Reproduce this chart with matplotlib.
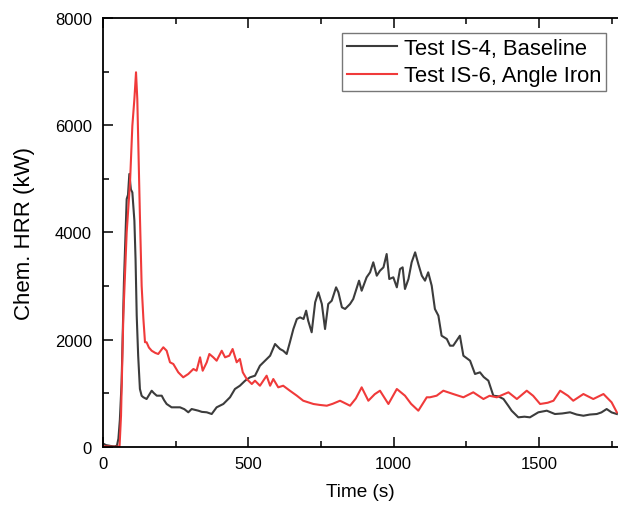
import matplotlib
matplotlib.use("Agg")
import matplotlib.pyplot as plt
from matplotlib.ticker import MultipleLocator

plt.rcParams['font.family'] = ['Liberation Sans', 'DejaVu Sans']

# Test IS-4, Baseline
t_base = [0, 10, 20, 30, 40, 48, 53, 58, 64, 72, 81.5, 86, 90.6, 96, 101, 108, 112, 116, 121, 127, 133,
          139, 150, 158, 167.5, 175, 185, 202, 210, 219, 236, 265, 280, 293.5, 305, 328, 340, 357, 374,
          391, 414, 437, 454, 471, 489, 506, 523, 540, 557.5, 575, 592, 609, 620, 632, 643, 655, 667,
          678, 690, 699, 706, 718, 730, 741, 753, 764, 775, 787, 802, 810, 822, 833, 850, 861, 881,
          890, 907, 919, 930, 942, 953, 965, 976, 985, 999, 1011, 1022, 1031, 1039, 1051, 1062, 1074,
          1085, 1097, 1108, 1119, 1131, 1142, 1154, 1165, 1183, 1194, 1205, 1228, 1240, 1263, 1280,
          1297, 1310, 1326, 1343, 1360, 1378, 1395, 1406, 1429, 1450, 1469, 1498, 1527, 1555, 1580,
          1607, 1630, 1653, 1675, 1699, 1715, 1733, 1750, 1768]
v_base = [60, 30, 20, 10, 5, 20, 150, 500, 1200, 3067, 4622, 4700, 5090, 4800, 4745, 4217, 3500, 2445, 1700,
          1077, 950, 922, 890, 960, 1045, 1000, 952, 952, 870, 797, 735, 735, 700, 642, 703, 672, 650,
          642, 610, 735, 797, 922, 1077, 1138, 1232, 1295, 1325, 1511, 1605, 1698, 1916, 1823, 1791,
          1730, 1948, 2196, 2383, 2414, 2383, 2538, 2351, 2135, 2694, 2881, 2663, 2196, 2663, 2724,
          2974, 2881, 2601, 2570, 2663, 2756, 3098, 2911, 3161, 3254, 3441, 3191, 3284, 3347, 3596,
          3129, 3161, 2974, 3316, 3347, 2943, 3129, 3441, 3627, 3409, 3191, 3098, 3254, 3004, 2570,
          2445, 2071, 2010, 1885, 1885, 2071, 1698, 1605, 1357, 1388, 1300, 1232, 952, 940, 890, 760,
          672, 548, 560, 548, 642, 672, 610, 620, 642, 600, 578, 600, 610, 640, 703, 640, 610]

# Test IS-6, Angle Iron
t_iron = [0, 10, 20, 30, 40, 50, 57, 62, 70, 81.5, 93, 101, 108, 113.6, 118, 127, 133, 139, 144.5, 150,
          158, 167.5, 180, 190, 207.5, 219, 230.5, 242, 259, 276, 293.5, 311, 322, 334, 343, 357, 366,
          379.5, 391, 408.5, 420, 434.5, 446, 460, 471, 481, 494.5, 512, 523, 540, 563, 575, 586, 603,
          620, 643, 667, 689, 724, 745, 770, 790, 815.5, 850, 870, 890, 913, 935, 953, 982, 1011,
          1039, 1060, 1085, 1114, 1125, 1148, 1171, 1205, 1240, 1274, 1309, 1330, 1355, 1395, 1424,
          1458, 1480, 1504, 1530, 1550, 1573, 1600, 1618, 1653, 1687, 1722, 1750, 1768]
v_iron = [10, 5, 5, 0, 0, 0, 10, 578, 2445, 4000, 4934, 5990, 6488, 6987, 6488, 4310, 3000, 2383, 1950,
          1948, 1850, 1791, 1750, 1730, 1855, 1791, 1575, 1543, 1388, 1295, 1357, 1450, 1418, 1668,
          1418, 1575, 1730, 1668, 1605, 1791, 1668, 1698, 1823, 1575, 1637, 1388, 1263, 1170, 1232,
          1138, 1325, 1138, 1263, 1108, 1138, 1045, 952, 858, 797, 780, 765, 800, 858, 765, 900, 1108,
          858, 980, 1045, 797, 1077, 952, 800, 672, 922, 922, 952, 1045, 983, 922, 1015, 890, 950,
          922, 1015, 890, 1045, 950, 797, 820, 858, 1045, 950, 858, 983, 890, 983, 828, 642]

fig = plt.figure(figsize=(6.18, 5.10), dpi=100)
ax = fig.add_axes([103/618, 1 - 447.7/510, 1 - 103/618, (447.7 - 19)/510])

ax.plot(t_base, v_base, color='#3c3c3c', lw=1.5, label='Test IS-4, Baseline')
ax.plot(t_iron, v_iron, color='#f03a3a', lw=1.5, label='Test IS-6, Angle Iron')

ax.set_xlim(0, 1772)
ax.set_ylim(0, 8000)
ax.xaxis.set_major_locator(MultipleLocator(500))
ax.xaxis.set_minor_locator(MultipleLocator(250))
ax.yaxis.set_major_locator(MultipleLocator(2000))
ax.yaxis.set_minor_locator(MultipleLocator(1000))
ax.tick_params(which='both', direction='in', top=True, right=False, labelsize=12, width=1.1)
ax.tick_params(which='major', length=7)
ax.tick_params(which='minor', length=4)
ax.tick_params(axis='x', which='major', pad=7)
ax.tick_params(axis='y', which='major', pad=8)
ax.spines['right'].set_visible(False)
for s in ['left', 'bottom', 'top']:
    ax.spines[s].set_linewidth(1.3)

ax.set_xlabel('Time (s)', fontsize=13.7, labelpad=8)
ax.set_ylabel('Chem. HRR (kW)', fontsize=16, labelpad=14)

leg = ax.legend(loc='upper right', bbox_to_anchor=(0.977, 0.965), fontsize=15.8, frameon=True,
                fancybox=False, edgecolor='#777777', framealpha=1, handlelength=2.3,
                borderpad=0.22, labelspacing=0.3, handletextpad=0.3, borderaxespad=0)
leg.get_frame().set_linewidth(1.0)

fig.savefig('out.png', dpi=100)
